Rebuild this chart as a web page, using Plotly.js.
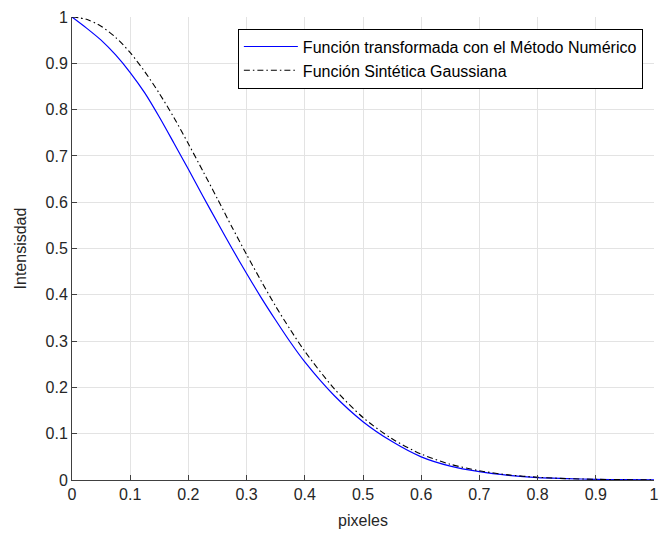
<!DOCTYPE html>
<html>
<head>
<meta charset="utf-8">
<script src="https://cdn.plot.ly/plotly-3.0.1.min.js"></script>
<style>html,body{margin:0;padding:0;background:#fff;}#chart{width:660px;height:535px;}</style>
</head>
<body>
<div id="chart"></div>
<script>
const xValues = [0, 0.025, 0.05, 0.075, 0.1, 0.125, 0.15, 0.175, 0.2, 0.225, 0.25, 0.275, 0.3, 0.325, 0.35, 0.375, 0.4, 0.45, 0.5, 0.55, 0.6, 0.65, 0.7, 0.75, 0.8, 0.85, 0.9, 0.95, 1.0];
const numericValues = [1.000, 0.976, 0.950, 0.918, 0.880, 0.836, 0.784, 0.728, 0.671, 0.613, 0.556, 0.500, 0.446, 0.394, 0.345, 0.298, 0.255, 0.183, 0.126, 0.083, 0.050, 0.030, 0.018, 0.010, 0.005, 0.003, 0.0015, 0.0008, 0.0004];
const gaussianValues = [1.000, 0.995, 0.980, 0.956, 0.923, 0.882, 0.835, 0.783, 0.726, 0.667, 0.607, 0.546, 0.487, 0.430, 0.375, 0.325, 0.278, 0.198, 0.135, 0.089, 0.056, 0.034, 0.020, 0.011, 0.006, 0.003, 0.0015, 0.0007, 0.0003];
const seriesNames = ["Función transformada con el Método Numérico", "Función Sintética Gaussiana"];
const xTitle = "pixeles";
const yTitle = "Intensisdad";

const font = "Liberation Sans, Arial, sans-serif";
const traces = [
  {x: xValues, y: numericValues, type: "scatter", mode: "lines", name: seriesNames[0],
   line: {color: "#0000ff", width: 1.2, shape: "spline", smoothing: 0.8}, legendgroup: "a"},
  {x: xValues, y: gaussianValues, type: "scatter", mode: "lines", name: seriesNames[1],
   line: {color: "#000000", width: 1.1, dash: "6px,3px,1.5px,3px", shape: "spline", smoothing: 0.8}, legendgroup: "b"}
];
const axisCommon = {
  range: [0, 1], dtick: 0.1, tick0: 0, ticks: "inside", ticklen: 5, tickcolor: "#404040",
  showline: true, linecolor: "#404040", linewidth: 1, showgrid: true, gridcolor: "#e3e3e3",
  zeroline: false, tickfont: {family: font, size: 16, color: "#262626"}, automargin: false,
  fixedrange: true, ticklabeloverflow: "allow"
};
const layout = {
  width: 660, height: 535,
  margin: {l: 72, r: 6, t: 17, b: 55},
  paper_bgcolor: "#ffffff", plot_bgcolor: "#ffffff",
  font: {family: font, color: "#262626"},
  xaxis: Object.assign({}, axisCommon, {title: {text: xTitle, font: {family: font, size: 16, color: "#262626"}, standoff: 12}}),
  yaxis: Object.assign({}, axisCommon, {title: {text: yTitle, font: {family: font, size: 16, color: "#262626"}, standoff: 14}}),
  showlegend: true,
  legend: {x: 0.285, y: 0.975, xanchor: "left", yanchor: "top", bgcolor: "#ffffff",
    bordercolor: "#000000", borderwidth: 1, font: {family: font, size: 16, color: "#000000"},
    tracegroupgap: 0, traceorder: "normal", itemwidth: 54}
};
Plotly.newPlot("chart", traces, layout, {staticPlot: true});
</script>
</body>
</html>
